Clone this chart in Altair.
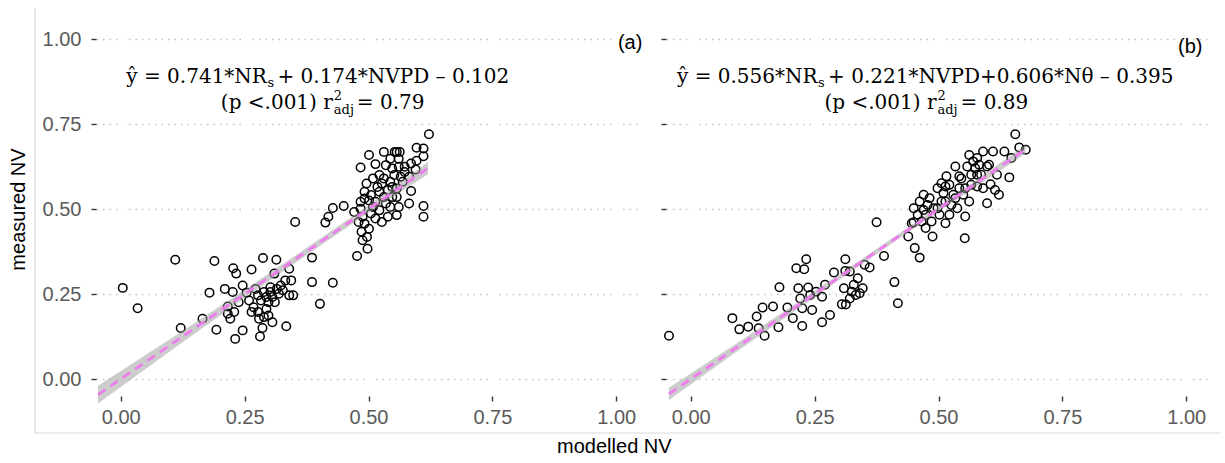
import altair as alt
import pandas as pd

# ---------------- data ----------------
# Panel (a): modelled NV (x) against measured NV (y)
A_MODELLED = [
    0.004, 0.034, 0.110, 0.121, 0.165, 0.179, 0.189, 0.193, 0.210, 0.216,
    0.227, 0.231, 0.233, 0.246, 0.254, 0.264, 0.246, 0.226, 0.229, 0.238,
    0.216, 0.221, 0.281, 0.287, 0.286, 0.306, 0.310, 0.314, 0.334, 0.340,
    0.344, 0.348, 0.352, 0.386, 0.386, 0.402, 0.428, 0.413, 0.419, 0.428,
    0.450, 0.477, 0.498,
    0.272, 0.277, 0.283, 0.289, 0.294, 0.298, 0.302, 0.306, 0.311, 0.315,
    0.319, 0.323, 0.327, 0.332, 0.294, 0.277, 0.268, 0.259, 0.298, 0.279,
    0.302, 0.340, 0.289, 0.264,
    0.622, 0.611, 0.597, 0.611, 0.597, 0.586, 0.573, 0.561, 0.557, 0.553,
    0.531, 0.501, 0.484, 0.514, 0.535, 0.548, 0.496, 0.492, 0.505, 0.518,
    0.531, 0.544, 0.557, 0.569, 0.586, 0.582, 0.611, 0.611, 0.557, 0.561,
    0.548, 0.535, 0.522, 0.509, 0.501, 0.484, 0.488, 0.492, 0.486, 0.497,
    0.488, 0.501, 0.514, 0.527, 0.539, 0.531, 0.522, 0.509, 0.522, 0.539,
    0.552, 0.565, 0.573, 0.544, 0.557, 0.505, 0.480, 0.471, 0.484, 0.492,
    0.514, 0.527, 0.548, 0.582, 0.595, 0.561, 0.544, 0.563,
]
A_MEASURED = [
    0.268, 0.208, 0.351, 0.150, 0.177, 0.254, 0.347, 0.145, 0.265, 0.213,
    0.326, 0.118, 0.310, 0.143, 0.254, 0.322, 0.275, 0.256, 0.197, 0.226,
    0.192, 0.177, 0.125, 0.356, 0.150, 0.167, 0.310, 0.351, 0.155, 0.324,
    0.290, 0.246, 0.462, 0.285, 0.357, 0.221, 0.283, 0.460, 0.477, 0.503,
    0.509, 0.362, 0.383,
    0.265, 0.246, 0.231, 0.256, 0.241, 0.226, 0.256, 0.241, 0.226, 0.265,
    0.251, 0.275, 0.261, 0.290, 0.206, 0.197, 0.211, 0.231, 0.187, 0.177,
    0.270, 0.246, 0.182, 0.197,
    0.720, 0.678, 0.680, 0.655, 0.642, 0.634, 0.624, 0.624, 0.668, 0.668,
    0.668, 0.659, 0.622, 0.632, 0.629, 0.619, 0.575, 0.551, 0.541, 0.565,
    0.590, 0.580, 0.560, 0.580, 0.553, 0.516, 0.509, 0.477, 0.482, 0.506,
    0.535, 0.516, 0.496, 0.506, 0.525, 0.501, 0.477, 0.457, 0.433, 0.418,
    0.408, 0.442, 0.472, 0.462, 0.477, 0.535, 0.551, 0.590, 0.600, 0.555,
    0.600, 0.595, 0.609, 0.506, 0.535, 0.487, 0.462, 0.491, 0.521, 0.531,
    0.521, 0.575, 0.565, 0.595, 0.616, 0.648, 0.648, 0.668,
]

# Panel (b): modelled NV (x) against measured NV (y)
B_MODELLED = [
    -0.044, 0.084, 0.098, 0.116, 0.133, 0.137, 0.145, 0.149, 0.166, 0.177,
    0.179, 0.195, 0.206, 0.213, 0.229, 0.233, 0.217, 0.221, 0.225, 0.225,
    0.237, 0.241, 0.245, 0.253, 0.265, 0.271, 0.265, 0.281, 0.289, 0.305,
    0.312, 0.312, 0.309, 0.313, 0.321, 0.325, 0.329, 0.333, 0.337, 0.341,
    0.347, 0.351, 0.361, 0.321, 0.375, 0.390, 0.411, 0.418, 0.439, 0.450,
    0.452, 0.462, 0.450, 0.462, 0.470, 0.478, 0.474, 0.486, 0.488, 0.498,
    0.506, 0.502, 0.514, 0.516, 0.522, 0.530, 0.538, 0.534, 0.546, 0.554,
    0.553, 0.558, 0.566, 0.570, 0.578, 0.582, 0.590, 0.598, 0.598, 0.605,
    0.610, 0.614, 0.622, 0.633, 0.643, 0.647, 0.655, 0.663, 0.676, 0.562,
    0.550, 0.542, 0.526, 0.514, 0.490, 0.482, 0.510, 0.522, 0.534, 0.574,
    0.586, 0.566, 0.554, 0.542, 0.514, 0.498, 0.470, 0.458, 0.446, 0.474,
    0.466, 0.578, 0.562, 0.602, 0.618, 0.590, 0.578, 0.506,
]
B_MEASURED = [
    0.127, 0.179, 0.146, 0.154, 0.184, 0.149, 0.210, 0.127, 0.213, 0.152,
    0.270, 0.210, 0.179, 0.326, 0.323, 0.352, 0.267, 0.237, 0.208, 0.156,
    0.269, 0.247, 0.203, 0.257, 0.242, 0.277, 0.167, 0.188, 0.313, 0.220,
    0.352, 0.318, 0.267, 0.219, 0.237, 0.257, 0.277, 0.247, 0.296, 0.252,
    0.267, 0.336, 0.328, 0.316, 0.461, 0.362, 0.285, 0.223, 0.419, 0.461,
    0.385, 0.357, 0.502, 0.522, 0.542, 0.512, 0.483, 0.463, 0.419, 0.561,
    0.522, 0.483, 0.458, 0.596, 0.571, 0.542, 0.502, 0.625, 0.590, 0.478,
    0.414, 0.625, 0.571, 0.640, 0.601, 0.630, 0.669, 0.625, 0.517, 0.573,
    0.669, 0.556, 0.542, 0.669, 0.593, 0.650, 0.720, 0.681, 0.674, 0.522,
    0.542, 0.561, 0.512, 0.522, 0.502, 0.532, 0.547, 0.483, 0.532, 0.620,
    0.601, 0.601, 0.561, 0.596, 0.566, 0.502, 0.497, 0.483, 0.458, 0.444,
    0.463, 0.650, 0.659, 0.630, 0.601, 0.561, 0.566, 0.576,
]

# Fitted line (1:1) and its confidence ribbon
A_LINE_X = [-0.046, 0.62]
A_LINE_Y = [-0.046, 0.62]
A_BAND_X = [-0.046, 0.10, 0.25, 0.40, 0.50, 0.62]
A_BAND_LO = [-0.072, 0.082, 0.238, 0.390, 0.489, 0.602]
A_BAND_HI = [-0.020, 0.118, 0.262, 0.410, 0.511, 0.638]

B_LINE_X = [-0.044, 0.676]
B_LINE_Y = [-0.044, 0.676]
B_BAND_X = [-0.044, 0.10, 0.30, 0.50, 0.676]
B_BAND_LO = [-0.062, 0.088, 0.292, 0.493, 0.663]
B_BAND_HI = [-0.026, 0.112, 0.308, 0.507, 0.689]

TICKS = [0.0, 0.25, 0.5, 0.75, 1.0]

# Regression annotations, split where sub/superscripts occur
A_EQ = ["ŷ = 0.741*NR", "s", "+ 0.174*NVPD – 0.102"]
A_FIT = ["(p <.001) r", "2", "adj", "= 0.79"]
B_EQ = ["ŷ = 0.556*NR", "s", "+ 0.221*NVPD+0.606*Nθ –  0.395"]
B_FIT = ["(p <.001) r", "2", "adj", "= 0.89"]
TAGS = ["(a)", "(b)"]

# ---------------- styling ----------------
SANS = "Liberation Sans"
SERIF = "DejaVu Serif"
DOMAIN = [-0.05, 1.05]
W, H = 545, 374
EQ_SIZE = 20
SUB_SIZE = 13


def x_enc(field="x"):
    return alt.X(
        f"{field}:Q",
        scale=alt.Scale(domain=DOMAIN, nice=False, zero=False),
        axis=alt.Axis(
            values=TICKS, format=".2f", title=None,
            labelFont=SANS, labelFontSize=20, labelColor="#5a5a5a",
            tickColor="#333333", tickWidth=1.4, tickSize=5, labelPadding=6,
            domain=False, grid=False,
        ),
    )


def y_enc(field="y", show_labels=True):
    return alt.Y(
        f"{field}:Q",
        scale=alt.Scale(domain=DOMAIN, nice=False, zero=False),
        axis=alt.Axis(
            values=TICKS, format=".2f",
            title="measured NV" if show_labels else None,
            labels=show_labels,
            labelFont=SANS, labelFontSize=20, labelColor="#5a5a5a",
            tickColor="#333333", tickWidth=1.4, tickSize=5, labelPadding=10,
            titleFont=SANS, titleFontSize=20, titleFontWeight="normal",
            titleColor="black", titlePadding=14,
            domain=False, grid=True, gridColor="#c2c2c2",
            gridDash=[1.5, 5], gridWidth=1.4,
        ),
    )


def text_piece(x, y, text, align, size, show, dx=0, dy=0, font=SERIF, color="black"):
    df = pd.DataFrame({"x": [x], "y": [y], "t": [text]})
    return alt.Chart(df).mark_text(
        align=align, baseline="alphabetic", font=font, fontSize=size,
        dx=dx, dy=dy, color=color,
    ).encode(x=x_enc(), y=y_enc(show_labels=show), text="t:N")


def panel(mx, my, line_x, line_y, band_x, band_lo, band_hi,
          eq, fit, eq_anchor, fit_anchor, tag, tag_pos, first):
    pts = pd.DataFrame({"x": mx, "y": my})
    band = pd.DataFrame({"x": band_x, "lo": band_lo, "hi": band_hi})
    line = pd.DataFrame({"x": line_x, "y": line_y})
    ticks = pd.DataFrame({"x": TICKS})

    yl = y_enc(show_labels=first)

    # white vertical major grid that interrupts the dotted horizontal grid
    vgrid = alt.Chart(ticks).mark_rule(color="white", strokeWidth=6).encode(
        x=x_enc()
    )
    points = alt.Chart(pts).mark_point(
        shape="circle", filled=False, color="black", size=72, strokeWidth=1.5,
        opacity=1,
    ).encode(x=x_enc(), y=yl)
    ribbon = alt.Chart(band).mark_area(color="#999999", opacity=0.5).encode(
        x=x_enc(), y=y_enc("lo", show_labels=first), y2="hi:Q"
    )
    fit_line = alt.Chart(line).mark_line(
        color="#ee7cee", strokeWidth=2.8, strokeDash=[9, 6]
    ).encode(x=x_enc(), y=yl)

    ex, ey = eq_anchor
    fx, fy = fit_anchor
    texts = [
        text_piece(ex, ey, eq[0], "right", EQ_SIZE, first),
        text_piece(ex, ey, eq[1], "left", SUB_SIZE, first, dx=0.5, dy=4),
        text_piece(ex, ey, eq[2], "left", EQ_SIZE, first, dx=10.5),
        text_piece(fx, fy, fit[0], "right", EQ_SIZE, first),
        text_piece(fx, fy, fit[1], "left", SUB_SIZE, first, dx=1, dy=-9),
        text_piece(fx, fy, fit[2], "left", SUB_SIZE, first, dx=1, dy=5),
        text_piece(fx, fy, fit[3], "left", EQ_SIZE, first, dx=24),
        text_piece(tag_pos[0], tag_pos[1], tag, "center", 20, first, dy=7, font=SANS),
    ]

    layers = [vgrid, points, ribbon, fit_line] + texts

    if first:
        # light frame along the left and bottom edges of the figure
        frame_l = alt.Chart(ticks.head(1)).mark_rule(color="#d9d9d9", strokeWidth=1.2).encode(
            x=alt.value(-61), y=alt.value(-14), y2=alt.value(411)
        )
        frame_b = alt.Chart(ticks.head(1)).mark_rule(color="#d9d9d9", strokeWidth=1.2).encode(
            x=alt.value(-61), x2=alt.value(1124), y=alt.value(411)
        )
        layers += [frame_l, frame_b]

    return alt.layer(*layers).properties(width=W, height=H)


panel_a = panel(A_MODELLED, A_MEASURED, A_LINE_X, A_LINE_Y, A_BAND_X, A_BAND_LO,
                A_BAND_HI, A_EQ, A_FIT, (0.295, 0.872), (0.428, 0.795),
                TAGS[0], (1.028, 0.992), True)
panel_b = panel(B_MODELLED, B_MEASURED, B_LINE_X, B_LINE_Y, B_BAND_X, B_BAND_LO,
                B_BAND_HI, B_EQ, B_FIT, (0.256, 0.872), (0.496, 0.795),
                TAGS[1], (1.008, 0.978), False)

chart = alt.hconcat(panel_a, panel_b, spacing=25, bounds="flush").properties(
    title=alt.TitleParams(
        "modelled NV", orient="bottom", anchor="middle", font=SANS,
        fontSize=20, fontWeight="normal", color="black", offset=3,
    ),
    padding={"left": 8, "top": 7, "right": 0, "bottom": 0},
    background="white",
).configure_view(stroke=None)

chart.save("out.html", embed_options={"renderer": "svg", "actions": False})
